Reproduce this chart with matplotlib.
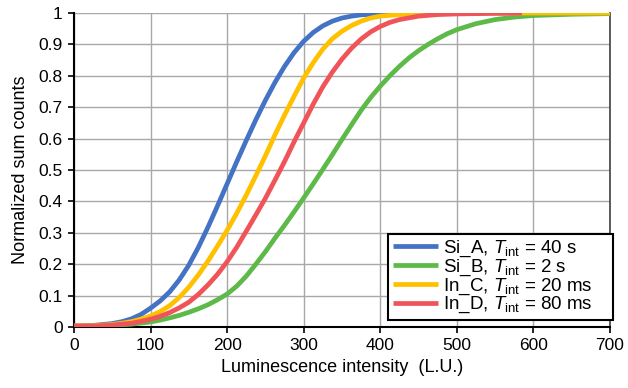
import matplotlib
matplotlib.use("Agg")
import matplotlib.pyplot as plt

plt.rcParams["font.family"] = ["Liberation Sans", "DejaVu Sans"]
plt.rcParams["mathtext.fontset"] = "custom"
plt.rcParams["mathtext.rm"] = "Liberation Sans"
plt.rcParams["mathtext.it"] = "Liberation Sans:italic"

# values
x_si_a = [0, 25, 50, 62.5, 75, 87.5, 100, 112.5, 125, 137.5, 150, 162.5, 175, 187.5, 200,
          212.5, 225, 237.5, 250, 262.5, 275, 287.5, 300, 312.5, 325, 337.5, 350, 362.5,
          375, 400, 450, 500, 585]
y_si_a = [0.003, 0.005, 0.011, 0.017, 0.026, 0.04, 0.06, 0.083, 0.112, 0.15, 0.197, 0.254,
          0.318, 0.386, 0.456, 0.526, 0.594, 0.66, 0.722, 0.779, 0.83, 0.874, 0.91, 0.938,
          0.959, 0.974, 0.984, 0.99, 0.994, 0.998, 1.0, 1.0, 1.0]

x_si_b = [0, 25, 50, 75, 100, 112.5, 125, 137.5, 150, 162.5, 175, 187.5, 200, 212.5, 225,
          237.5, 250, 262.5, 275, 287.5, 300, 312.5, 325, 337.5, 350, 362.5, 375, 387.5,
          400, 412.5, 425, 437.5, 450, 462.5, 475, 487.5, 500, 525, 550, 575, 600, 650, 700]
y_si_b = [0.003, 0.003, 0.005, 0.009, 0.016, 0.022, 0.029, 0.037, 0.047, 0.058, 0.071,
          0.087, 0.105, 0.13, 0.162, 0.2, 0.24, 0.283, 0.324, 0.367, 0.411, 0.456, 0.502,
          0.549, 0.597, 0.644, 0.69, 0.731, 0.767, 0.8, 0.83, 0.857, 0.88, 0.9, 0.918,
          0.934, 0.947, 0.966, 0.979, 0.987, 0.992, 0.996, 0.998]

x_in_c = [0, 25, 50, 62.5, 75, 87.5, 100, 112.5, 125, 137.5, 150, 162.5, 175, 187.5, 200,
          212.5, 225, 237.5, 250, 262.5, 275, 287.5, 300, 312.5, 325, 337.5, 350, 362.5,
          375, 387.5, 400, 425, 450, 500, 550, 700]
y_in_c = [0.003, 0.004, 0.008, 0.012, 0.017, 0.025, 0.035, 0.049, 0.068, 0.094, 0.127,
          0.166, 0.21, 0.258, 0.308, 0.362, 0.42, 0.482, 0.545, 0.612, 0.675, 0.735, 0.793,
          0.842, 0.885, 0.918, 0.942, 0.96, 0.974, 0.984, 0.99, 0.995, 0.997, 0.999, 1.0, 1.0]

x_in_d = [0, 25, 50, 62.5, 75, 87.5, 100, 112.5, 125, 137.5, 150, 162.5, 175, 187.5, 200,
          212.5, 225, 237.5, 250, 262.5, 275, 287.5, 300, 312.5, 325, 337.5, 350, 362.5,
          375, 387.5, 400, 412.5, 425, 450, 475, 500, 550, 585]
y_in_d = [0.003, 0.003, 0.006, 0.009, 0.012, 0.018, 0.025, 0.034, 0.046, 0.061, 0.079,
          0.104, 0.134, 0.168, 0.208, 0.254, 0.305, 0.357, 0.41, 0.468, 0.527, 0.59, 0.65,
          0.71, 0.765, 0.812, 0.853, 0.888, 0.917, 0.94, 0.957, 0.97, 0.979, 0.99, 0.995,
          0.997, 0.999, 1.0]

series = [
    (x_si_a, y_si_a, "#4472C4", r"Si_A, $T_{\rm int}$ = 40 s"),
    (x_si_b, y_si_b, "#5DB948", r"Si_B, $T_{\rm int}$ = 2 s"),
    (x_in_c, y_in_c, "#FFC000", r"In_C, $T_{\rm int}$ = 20 ms"),
    (x_in_d, y_in_d, "#F05458", r"In_D, $T_{\rm int}$ = 80 ms"),
]

fig = plt.figure(figsize=(6.28, 3.88), dpi=100)
ax = fig.add_axes([0.1178, 0.1572, 0.8535, 0.8093])

for xs, ys, color, label in series:
    ax.plot(xs, ys, color=color, linewidth=3.4, label=label,
            solid_capstyle="butt", solid_joinstyle="round", zorder=3)

ax.set_xlim(0, 700)
ax.set_ylim(0, 1)
ax.set_xticks(range(0, 701, 100))
ax.set_yticks([i / 10 for i in range(11)])
ax.set_yticklabels(["0", "0.1", "0.2", "0.3", "0.4", "0.5", "0.6", "0.7", "0.8", "0.9", "1"])
ax.grid(True, color="#A8A8A8", linewidth=1.0, zorder=0)
ax.set_axisbelow(True)

ax.spines["top"].set_visible(False)
ax.spines["right"].set_color("#404040")
ax.spines["right"].set_linewidth(1.2)
ax.spines["left"].set_linewidth(1.5)
ax.spines["bottom"].set_linewidth(1.5)
ax.tick_params(direction="out", length=4, width=1.2, labelsize=12.5, pad=4)

ax.set_xlabel("Luminescence intensity  (L.U.)", fontsize=13, labelpad=4)
ax.set_ylabel("Normalized sum counts", fontsize=13, labelpad=7)

leg = ax.legend(loc="lower left", bbox_to_anchor=(0.586, 0.022, 0.42, 0.26),
                mode="expand", borderaxespad=0,
                fontsize=13.5, frameon=True, fancybox=False, handlelength=2.4,
                handletextpad=0.28, labelspacing=-0.08, borderpad=0.25)
leg.get_frame().set_edgecolor("black")
leg.get_frame().set_linewidth(1.5)
leg.get_frame().set_alpha(1)
leg.set_zorder(5)

fig.savefig("out.png", dpi=100)
